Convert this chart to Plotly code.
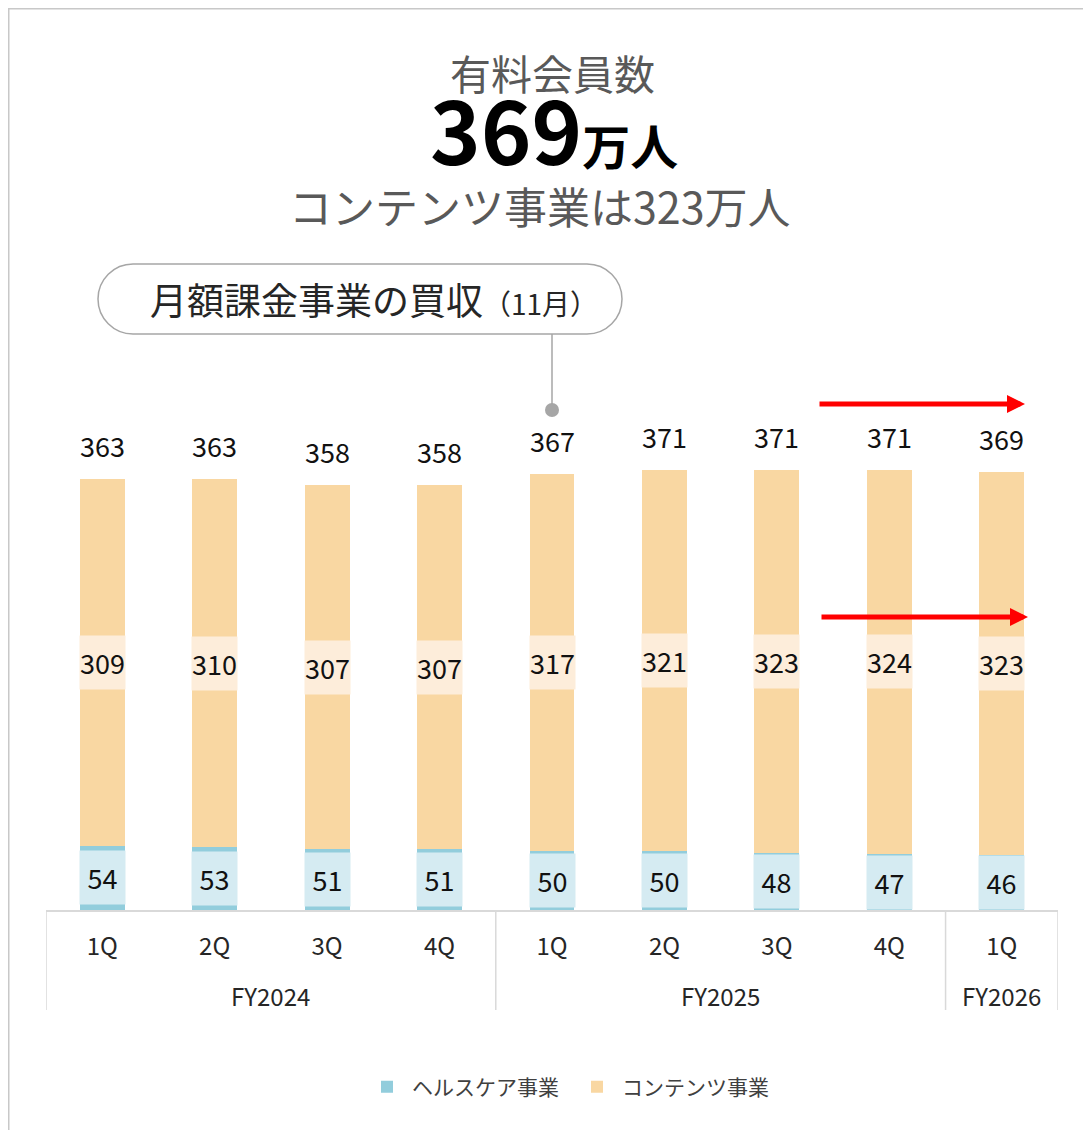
import plotly.graph_objects as go

fiscal_years = ["FY2024", "FY2024", "FY2024", "FY2024",
                "FY2025", "FY2025", "FY2025", "FY2025", "FY2026"]
quarters = ["1Q", "2Q", "3Q", "4Q", "1Q", "2Q", "3Q", "4Q", "1Q"]
healthcare = [54, 53, 51, 51, 50, 50, 48, 47, 46]
contents = [309, 310, 307, 307, 317, 321, 323, 324, 323]
totals = [363, 363, 358, 358, 367, 371, 371, 371, 369]

# page is offset by the 8px body margin; layout in reference page pixels
OFF = 8
W, H = 1091 - OFF, 1130 - OFF
L, R, T, B = 46, 1058, 300, 910  # plot area in page pixels

FONT = "Noto Sans CJK JP, Noto Sans, sans-serif"
C_HC = "#92CDDC"
C_CT = "#F9D7A2"
C_HC_BG = "#D5EBF2"
C_CT_BG = "#FDEDDA"


def px(x):
    return (x - L) / (R - L)


def py(y):
    return (B - y) / (B - T)


YMAX = (B - T) / 1.187
idx = list(range(len(quarters)))

fig = go.Figure()
fig.add_trace(go.Bar(x=idx, y=healthcare, name="ヘルスケア事業",
                     marker=dict(color=C_HC, line=dict(width=0)), width=0.4))
fig.add_trace(go.Bar(x=idx, y=contents, name="コンテンツ事業",
                     marker=dict(color=C_CT, line=dict(width=0)), width=0.4))

NUMF = dict(family=FONT, size=27, color="#111111")
annotations = []
for i in idx:
    annotations.append(dict(x=i, y=healthcare[i] / 2, xref="x", yref="y", text=str(healthcare[i]),
                            showarrow=False, bgcolor=C_HC_BG, width=45, height=53, borderpad=0,
                            xanchor="center", yanchor="middle", font=NUMF))
    annotations.append(dict(x=i, y=healthcare[i] + contents[i] / 2, xref="x", yref="y",
                            text=str(contents[i]), showarrow=False, bgcolor=C_CT_BG, width=45,
                            height=53, borderpad=0, xanchor="center", yanchor="middle", font=NUMF))
    annotations.append(dict(x=i, y=totals[i], xref="x", yref="y", text=str(totals[i]),
                            showarrow=False, xanchor="center", yanchor="bottom", yshift=12,
                            font=NUMF))

# fiscal-year group labels and dividers
groups = []
for i, fy in enumerate(fiscal_years):
    if not groups or groups[-1][0] != fy:
        groups.append([fy, i, i])
    else:
        groups[-1][2] = i

shapes = []
for fy, s, e in groups:
    annotations.append(dict(x=(s + e) / 2, y=py(995), xref="x", yref="paper", text=fy,
                            showarrow=False, xanchor="center", yanchor="middle",
                            font=dict(family=FONT, size=24, color="#262626")))
    shapes.append(dict(type="line", xref="x", yref="paper", x0=s - 0.5, x1=s - 0.5,
                       y0=0, y1=py(1010), line=dict(color="#D9D9D9", width=1.5)))
shapes.append(dict(type="line", xref="x", yref="paper", x0=groups[-1][2] + 0.5,
                   x1=groups[-1][2] + 0.5, y0=0, y1=py(1010),
                   line=dict(color="#D9D9D9", width=1.5)))

# titles
annotations += [
    dict(x=px(552), y=py(72), xref="paper", yref="paper", text="有料会員数", showarrow=False,
         xanchor="center", yanchor="middle", font=dict(family=FONT, size=41, color="#595959")),
    dict(x=px(554), y=py(128), xref="paper", yref="paper",
         text="<b>369</b><b><span style='font-size:48px'>万人</span></b>", showarrow=False,
         xanchor="center", yanchor="middle", font=dict(family=FONT, size=86, color="#000000")),
    dict(x=px(540), y=py(205), xref="paper", yref="paper", text="コンテンツ事業は323万人",
         showarrow=False, xanchor="center", yanchor="middle",
         font=dict(family=FONT, size=43, color="#595959")),
    dict(x=px(374), y=py(299), xref="paper", yref="paper",
         text="月額課金事業の買収<span style='font-size:28px'>（11月）</span>", showarrow=False,
         xanchor="center", yanchor="middle", font=dict(family=FONT, size=37, color="#262626")),
]

# red arrows
for tip_x, tail_x, yy in [(1025, 818, 404), (1028, 820, 617)]:
    annotations.append(dict(x=px(tip_x), y=py(yy), xref="paper", yref="paper", text="",
                            showarrow=True, ax=tail_x - tip_x, ay=0, arrowhead=2, arrowwidth=5,
                            arrowsize=0.72, arrowcolor="#FF0000", standoff=0, startstandoff=0))

# callout pill path
x0, x1, y0, y1, r = 98, 622, 264, 334, 35
k = 0.5523 * r
pts = [
    ("M", [(x0 + r, y0)]),
    ("L", [(x1 - r, y0)]),
    ("C", [(x1 - r + k, y0), (x1, y0 + r - k), (x1, y0 + r)]),
    ("C", [(x1, y0 + r + k), (x1 - r + k, y1), (x1 - r, y1)]),
    ("L", [(x0 + r, y1)]),
    ("C", [(x0 + r - k, y1), (x0, y1 - r + k), (x0, y1 - r)]),
    ("C", [(x0, y0 + r - k), (x0 + r - k, y0), (x0 + r, y0)]),
]
path = ""
for cmd, ps in pts:
    path += cmd + " " + " ".join(f"{px(a):.5f},{py(b):.5f}" for a, b in ps) + " "
path += "Z"

shapes += [
    dict(type="path", path=path, xref="paper", yref="paper",
         line=dict(color="#A6A6A6", width=1.5), fillcolor="rgba(255,255,255,0)"),
    dict(type="line", xref="paper", yref="paper", x0=px(552), x1=px(552), y0=py(334), y1=py(405),
         line=dict(color="#A6A6A6", width=1.5)),
    dict(type="circle", xref="paper", yref="paper", x0=px(545), x1=px(559), y0=py(403), y1=py(417),
         fillcolor="#A6A6A6", line=dict(width=0)),
    dict(type="rect", xref="paper", yref="paper", x0=px(OFF + 0.5), x1=px(1100), y0=py(OFF + 0.5),
         y1=py(1140), line=dict(color="#C8C8C8", width=2), fillcolor="rgba(0,0,0,0)",
         layer="below"),
]

fig.update_layout(
    width=W, height=H,
    margin=dict(l=L - OFF, r=(1091 - R), t=T - OFF, b=(1130 - B), pad=0),
    barmode="stack",
    plot_bgcolor="white", paper_bgcolor="white",
    font=dict(family=FONT, color="#262626"),
    showlegend=True,
    legend=dict(orientation="h", x=px(572), y=py(1087), xanchor="center", yanchor="middle",
                font=dict(family=FONT, size=21, color="#404040"), traceorder="normal",
                itemwidth=40, entrywidth=155, entrywidthmode="pixels"),
    annotations=annotations,
    shapes=shapes,
    xaxis=dict(type="linear", range=[-0.5, len(quarters) - 0.5], tickmode="array",
               tickvals=idx, ticktext=quarters, showline=True, linecolor="#D9D9D9",
               linewidth=1.5, ticks="", ticklabelstandoff=14, showgrid=False, zeroline=False,
               tickfont=dict(family=FONT, size=24, color="#262626")),
    yaxis=dict(range=[0, YMAX], visible=False, showgrid=False, zeroline=False),
)

fig.write_html("out.html")
